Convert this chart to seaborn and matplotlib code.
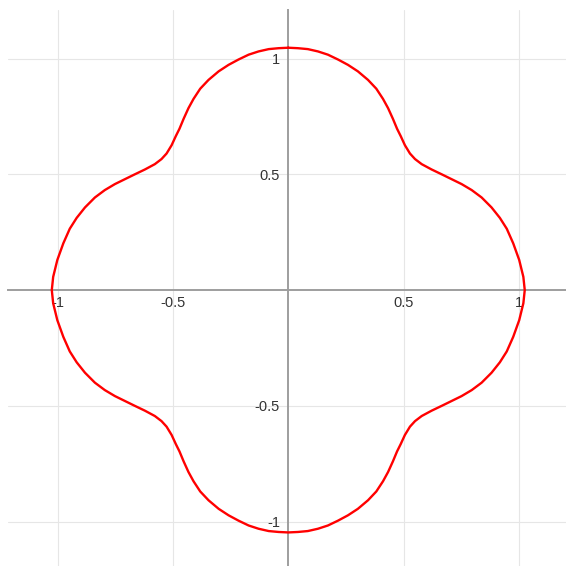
import matplotlib
matplotlib.use("Agg")
import matplotlib.pyplot as plt
import seaborn as sns
import pandas as pd

# Curve points (closed loop, clockwise from the top)
curve_x = [
    # quadrant I (top -> right)
    0.000, 0.042, 0.085, 0.129, 0.172, 0.216, 0.259, 0.302, 0.346, 0.382,
    0.411, 0.433, 0.454, 0.472, 0.488, 0.506, 0.528, 0.550, 0.579, 0.622,
    0.666, 0.709, 0.752, 0.796, 0.839, 0.882, 0.918, 0.948, 0.976, 1.002,
    1.020, 1.026,
    # quadrant IV (right -> bottom)
    1.020, 1.002, 0.976, 0.948, 0.918, 0.882, 0.839, 0.796, 0.752, 0.709,
    0.666, 0.622, 0.579, 0.550, 0.528, 0.506, 0.488, 0.472, 0.454, 0.433,
    0.411, 0.382, 0.346, 0.302, 0.259, 0.216, 0.172, 0.129, 0.085, 0.042,
    0.000,
    # quadrant III (bottom -> left)
    -0.042, -0.085, -0.129, -0.172, -0.216, -0.259, -0.302, -0.346, -0.382, -0.411,
    -0.433, -0.454, -0.472, -0.488, -0.506, -0.528, -0.550, -0.579, -0.622, -0.666,
    -0.709, -0.752, -0.796, -0.839, -0.882, -0.918, -0.948, -0.976, -1.002, -1.020,
    -1.026,
    # quadrant II (left -> top)
    -1.020, -1.002, -0.976, -0.948, -0.918, -0.882, -0.839, -0.796, -0.752, -0.709,
    -0.666, -0.622, -0.579, -0.550, -0.528, -0.506, -0.488, -0.472, -0.454, -0.433,
    -0.411, -0.382, -0.346, -0.302, -0.259, -0.216, -0.172, -0.129, -0.085, -0.042,
    0.000,
]
curve_y = [
    # quadrant I
    1.047, 1.045, 1.041, 1.031, 1.017, 0.996, 0.973, 0.945, 0.908, 0.870,
    0.826, 0.786, 0.740, 0.697, 0.665, 0.626, 0.590, 0.566, 0.544, 0.521,
    0.500, 0.479, 0.458, 0.432, 0.400, 0.357, 0.312, 0.265, 0.202, 0.130,
    0.057, 0.000,
    # quadrant IV
    -0.057, -0.130, -0.202, -0.265, -0.312, -0.357, -0.400, -0.432, -0.458, -0.479,
    -0.500, -0.521, -0.544, -0.566, -0.590, -0.626, -0.665, -0.697, -0.740, -0.786,
    -0.826, -0.870, -0.908, -0.945, -0.973, -0.996, -1.017, -1.031, -1.041, -1.045,
    -1.047,
    # quadrant III
    -1.045, -1.041, -1.031, -1.017, -0.996, -0.973, -0.945, -0.908, -0.870, -0.826,
    -0.786, -0.740, -0.697, -0.665, -0.626, -0.590, -0.566, -0.544, -0.521, -0.500,
    -0.479, -0.458, -0.432, -0.400, -0.357, -0.312, -0.265, -0.202, -0.130, -0.057,
    0.000,
    # quadrant II
    0.057, 0.130, 0.202, 0.265, 0.312, 0.357, 0.400, 0.432, 0.458, 0.479,
    0.500, 0.521, 0.544, 0.566, 0.590, 0.626, 0.665, 0.697, 0.740, 0.786,
    0.826, 0.870, 0.908, 0.945, 0.973, 0.996, 1.017, 1.031, 1.041, 1.045,
    1.047,
]
assert len(curve_x) == len(curve_y)

tick_values = [-1, -0.5, 0.5, 1]
tick_labels = ["-1", "-0.5", "0.5", "1"]

sns.set_theme(style="white")
plt.rcParams["font.family"] = ["Liberation Sans", "DejaVu Sans"]

df = pd.DataFrame({"x": curve_x, "y": curve_y})

fig = plt.figure(figsize=(5.66, 5.66), dpi=100)
ax = fig.add_axes([8 / 566, 0, 558 / 566, 556 / 566])

sns.lineplot(data=df, x="x", y="y", sort=False, estimator=None,
             color="#ff0000", lw=1.7, ax=ax, zorder=5,
             solid_joinstyle="round", solid_capstyle="round")

ax.set_xlim(-1.216, 1.205)
ax.set_ylim(-1.192, 1.21)

ax.set_xticks(tick_values)
ax.set_xticklabels(tick_labels)
ax.set_yticks(tick_values)
ax.set_yticklabels(tick_labels)

ax.grid(True, color="#e6e6e6", lw=0.8)
ax.set_axisbelow(True)

for side in ["top", "right"]:
    ax.spines[side].set_visible(False)
for side in ["left", "bottom"]:
    ax.spines[side].set_position(("data", 0))
    ax.spines[side].set_color("#9e9e9e")
    ax.spines[side].set_linewidth(1.4)

ax.tick_params(axis="x", direction="in", length=4, width=0.8, color="#9e9e9e",
               pad=4, labelsize=10.5, labelcolor="#333333")
ax.tick_params(axis="y", direction="out", length=5, width=0.8, color="#9e9e9e",
               pad=1, labelsize=10.5, labelcolor="#333333")

ax.set_xlabel("")
ax.set_ylabel("")

fig.savefig("out.png", dpi=100)
